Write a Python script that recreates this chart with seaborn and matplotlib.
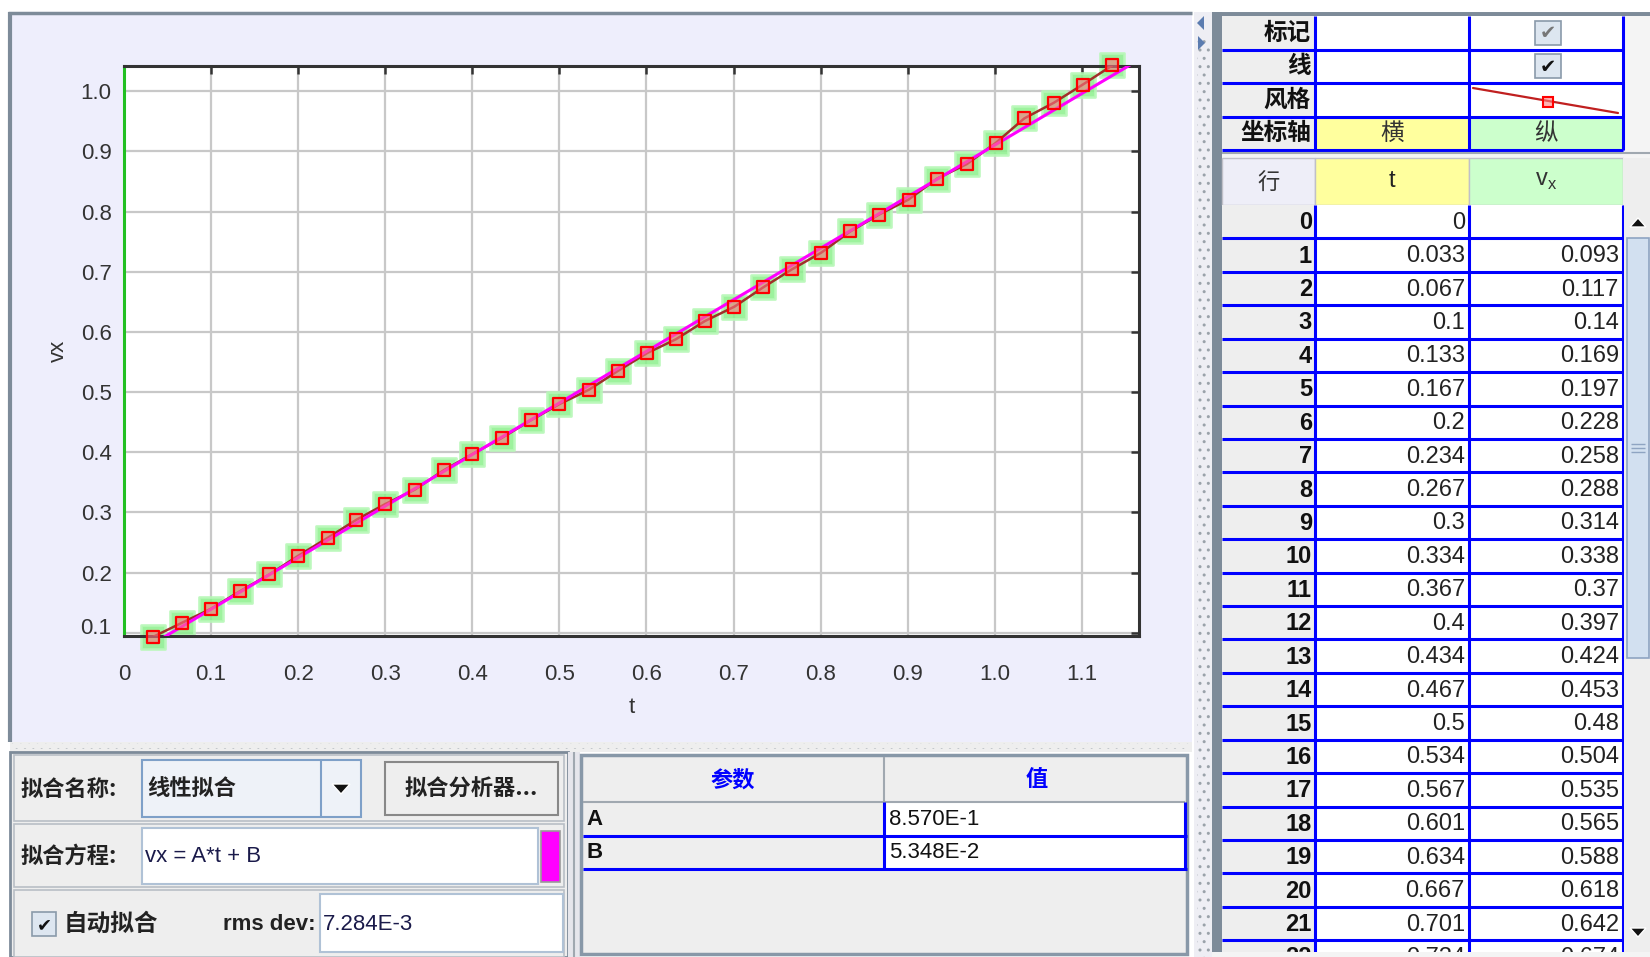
import numpy as np
import pandas as pd
import matplotlib
matplotlib.use("Agg")
import matplotlib.pyplot as plt
import matplotlib.transforms as mtransforms
import seaborn as sns
from matplotlib.patches import Rectangle, Polygon

# ---------------- data ----------------
row_index = list(range(35))
t_values = [0, 0.033, 0.067, 0.1, 0.133, 0.167, 0.2, 0.234, 0.267, 0.3, 0.334,
            0.367, 0.4, 0.434, 0.467, 0.5, 0.534, 0.567, 0.601, 0.634, 0.667,
            0.701, 0.734, 0.767, 0.801, 0.834, 0.867, 0.901, 0.934, 0.968,
            1.001, 1.034, 1.068, 1.101, 1.135]
vx_values = [np.nan, 0.093, 0.117, 0.14, 0.169, 0.197, 0.228, 0.258, 0.288,
             0.314, 0.338, 0.37, 0.397, 0.424, 0.453, 0.48, 0.504, 0.535,
             0.565, 0.588, 0.618, 0.642, 0.674, 0.704, 0.732, 0.767, 0.795,
             0.820, 0.855, 0.879, 0.914, 0.955, 0.981, 1.011, 1.043]
fit_A = 0.8570
fit_B = 0.05348
param_names = ["A", "B"]
param_texts = ["8.570E-1", "5.348E-2"]
rms_text = "7.284E-3"
fit_name = "线性拟合"
fit_equation = "vx = A*t + B"
x_ticks = [0, 0.1, 0.2, 0.3, 0.4, 0.5, 0.6, 0.7, 0.8, 0.9, 1.0, 1.1]
x_tick_labels = ["0", "0.1", "0.2", "0.3", "0.4", "0.5", "0.6", "0.7", "0.8", "0.9", "1.0", "1.1"]
y_ticks = [0.1, 0.2, 0.3, 0.4, 0.5, 0.6, 0.7, 0.8, 0.9, 1.0]
y_tick_labels = ["0.1", "0.2", "0.3", "0.4", "0.5", "0.6", "0.7", "0.8", "0.9", "1.0"]
top_rows = ["标记", "线", "风格", "坐标轴"]

df = pd.DataFrame({"row": row_index, "t": t_values, "vx": vx_values})
pts = df.dropna()

# ---------------- style ----------------
sns.set_theme(style="white")
CJK = ["Noto Sans CJK SC", "DejaVu Sans"]
LAT = ["Liberation Sans", "DejaVu Sans"]
plt.rcParams["font.family"] = LAT

W, H = 1650, 957
fig = plt.figure(figsize=(W / 100, H / 100), dpi=100)
fig.patch.set_facecolor("white")

ui = fig.add_axes([0, 0, 1, 1])
ui.set_xlim(0, W)
ui.set_ylim(H, 0)
ui.axis("off")

LAV = "#EEEEFC"
GREY = "#EEEEEE"
FRAME = "#7D8B99"
BLUE = "#0000FF"


def rect(x0, y0, x1, y1, fc="none", ec="none", lw=1.0, z=1, **kw):
    p = Rectangle((x0, y0), x1 - x0, y1 - y0, facecolor=fc,
                  edgecolor=ec, linewidth=lw, zorder=z, **kw)
    ui.add_patch(p)
    return p


def hline(x0, x1, y, c=BLUE, lw=2, z=3):
    ui.plot([x0, x1], [y, y], color=c, lw=lw, zorder=z, solid_capstyle="butt")


def vline(x, y0, y1, c=BLUE, lw=2, z=3):
    ui.plot([x, x], [y0, y1], color=c, lw=lw, zorder=z, solid_capstyle="butt")


def txt(x, y, s, size=16, ha="left", va="center", fam=LAT, bold=False, color="#111111", z=5, **kw):
    ui.text(x, y, s, fontsize=size, ha=ha, va=va, family=fam,
            fontweight="bold" if bold else "normal", color=color, zorder=z, **kw)


# ---------------- plot panel ----------------
rect(8, 12, 1192, 742, fc=LAV, z=0)
vline(9.5, 12, 742, c=FRAME, lw=3, z=1)
hline(8, 1192, 13, c=FRAME, lw=2.5, z=1)
# horizontal splitter
rect(10, 742, 1192, 752, fc=GREY, ec="none", z=1)
p = rect(10, 743, 1190, 749, fc="none", lw=0, hatch="..", z=1)
p.set_edgecolor("#9AA2AA")
# vertical splitter
rect(1194, 12, 1212, 957, fc="#EEEEF4", z=1)
p = rect(1197, 40, 1210, 957, fc="none", lw=0, hatch="..", z=1)
p.set_edgecolor("#9AA2AA")
ui.add_patch(Polygon([[1204, 16], [1204, 30], [1197, 23]], closed=True, fc="#5B7CB0", ec="none", zorder=2))
ui.add_patch(Polygon([[1198, 36], [1198, 50], [1205, 43]], closed=True, fc="#5B7CB0", ec="none", zorder=2))
# table pane frame
rect(1212, 12, 1222, 957, fc=FRAME, z=1)
hline(1212, 1650, 14.5, c=FRAME, lw=5, z=1)

# ---------------- main axes ----------------
ax = fig.add_axes([124 / W, 1 - 636 / H, (1139 - 124) / W, (636 - 66) / H])
ax.set_facecolor("white")

t_fit = np.linspace(0, 1.2, 2)
fit_df = pd.DataFrame({"t": t_fit, "vx": fit_A * t_fit + fit_B})

sns.scatterplot(data=pts, x="t", y="vx", ax=ax, marker="s", s=300,
                color="#8CF08C", edgecolor="#B8F8B8", linewidth=2, alpha=0.85,
                zorder=2, clip_on=False, legend=False)
sns.lineplot(data=pts, x="t", y="vx", ax=ax, sort=False, estimator=None,
             color="#A0302A", lw=1.8, zorder=3, legend=False)
sns.lineplot(data=fit_df, x="t", y="vx", ax=ax, color="#FF00FF", lw=2.2,
             zorder=4, legend=False)
sns.scatterplot(data=pts, x="t", y="vx", ax=ax, marker="s", s=70,
                facecolor=(1.0, 0.45, 0.5, 0.6), edgecolor="#FF0000",
                linewidth=1.6, zorder=5, clip_on=False, legend=False)

ax.set_xlim(0, 1.1657)
ax.set_ylim(0.0947, 1.042)
ax.set_xticks(x_ticks)
ax.set_xticklabels(x_tick_labels)
ax.set_yticks(y_ticks)
ax.set_yticklabels(y_tick_labels)
ax.grid(True, color="#C8C8C8", lw=1.6)
ax.set_axisbelow(True)
ax.tick_params(axis="both", direction="in", length=6, width=1.8, color="#333333",
               top=True, right=True, labelsize=16, labelcolor="#333333")
ax.tick_params(axis="x", pad=20)
ax.tick_params(axis="y", pad=9)
for side in ["top", "bottom", "right"]:
    ax.spines[side].set_color("#333333")
    ax.spines[side].set_linewidth(2.2)
ax.spines["left"].set_color("#22C022")
ax.spines["left"].set_linewidth(2.2)
ax.set_xlabel("t", fontsize=16, color="#333333", labelpad=9)
ax.set_ylabel("vx", fontsize=16, color="#333333", labelpad=8)
# lowest y label sits a bit above its tick, as in the source
lbl = ax.yaxis.get_major_ticks()[0].label1
lbl.set_transform(lbl.get_transform() + mtransforms.ScaledTranslation(0, 0.07, fig.dpi_scale_trans))

# ---------------- data table (right) ----------------
cx = [1222, 1315, 1469, 1623]
top_h = 33.5
for i, name in enumerate(top_rows):
    y0 = 16 + i * top_h
    rect(cx[0], y0, cx[1], y0 + top_h, fc=GREY, z=1)
    if name == "坐标轴":
        rect(cx[1], y0, cx[2], y0 + top_h, fc="#FFFF9E", z=1)
        rect(cx[2], y0, cx[3], y0 + top_h, fc="#CCFFCC", z=1)
    else:
        rect(cx[1], y0, cx[3], y0 + top_h, fc="white", z=1)
    txt(cx[1] - 4, y0 + top_h / 2, name, size=17, ha="right", fam=CJK, bold=True)
    hline(cx[0], cx[3], y0 + top_h, lw=2.2)
rect(cx[3], 16, 1650, 150, fc="#F4F4F4", z=1)
for x in cx[1:]:
    vline(x, 16, 150, lw=2.2)
txt((cx[1] + cx[2]) / 2, 16 + 3.5 * top_h, "横", size=17, ha="center", fam=CJK, color="#333333")
txt((cx[2] + cx[3]) / 2, 16 + 3.5 * top_h, "纵", size=17, ha="center", fam=CJK, color="#333333")
for i, col in enumerate(["#777777", "#111111"]):
    yc = 16 + (i + 0.5) * top_h
    rect(1535, yc - 12, 1561, yc + 12, fc="#DDE6F0", ec="#8A9AAA", lw=1.2, z=4)
    txt(1548, yc + 1, "✔", size=14, ha="center", fam=["DejaVu Sans"], color=col, z=6)
ui.plot([1473, 1618], [88, 113], color="#C02020", lw=1.6, zorder=4)
rect(1543, 97, 1553, 107, fc=(1, 0.5, 0.5, 0.6), ec="#FF0000", lw=1.5, z=5)

rect(1222, 150, 1650, 158, fc="#F4F4F4", z=1)
hline(1222, 1650, 152.5, c="#A0A8B0", lw=1.5)

rect(cx[0], 158, cx[1], 205, fc="#EEEEF8", ec="#C0C0C8", lw=1, z=1)
rect(cx[1], 158, cx[2], 205, fc="#FFFF9E", ec="#C0C0C8", lw=1, z=1)
rect(cx[2], 158, cx[3], 205, fc="#CCFFCC", ec="#C0C0C8", lw=1, z=1)
rect(cx[3], 158, 1650, 205, fc=GREY, z=1)
txt((cx[0] + cx[1]) / 2, 183, "行", size=16, ha="center", fam=CJK, color="#333333", style="italic")
txt((cx[1] + cx[2]) / 2, 181, "t", size=17, ha="center", color="#222222")
txt((cx[2] + cx[3]) / 2, 181, r"v$_\mathregular{x}$", size=17, ha="center", color="#333333")

row_h = 33.42
row_top0 = 205
for i in row_index:
    y0 = row_top0 + i * row_h
    if y0 > 952:
        break
    rect(cx[0], y0, cx[1], y0 + row_h, fc=GREY, z=1)
    rect(cx[1], y0, cx[3], y0 + row_h, fc="white", z=1)
    yc = y0 + row_h / 2 + 1
    txt(cx[1] - 3, yc, str(row_index[i]), size=17, ha="right", bold=True)
    txt(cx[2] - 4, yc, f"{t_values[i]:g}", size=17, ha="right", color="#222222")
    if not np.isnan(vx_values[i]):
        txt(cx[3] - 4, yc, f"{vx_values[i]:g}", size=17, ha="right", color="#222222")
    if i > 0:
        hline(cx[0], cx[3], y0, lw=2.2)
for x in cx[1:]:
    vline(x, 205, 952, lw=2.2)
rect(1624, 205, 1650, 952, fc=GREY, z=6)
ui.add_patch(Polygon([[1630, 227], [1646, 227], [1638, 218]], closed=True, fc="#111111", zorder=7))
rect(1627, 238, 1649, 658, fc="#D2E0F0", ec="#8EA4C2", lw=1.2, z=7)
for yy in [444, 448, 452]:
    hline(1631, 1645, yy, c="#8EA4C2", lw=1, z=8)
ui.add_patch(Polygon([[1630, 928], [1646, 928], [1638, 937]], closed=True, fc="#111111", zorder=7))
rect(1212, 952, 1650, 957, fc="#F4F4F4", z=10)

# ---------------- fit controls (bottom-left) ----------------
rect(10, 752, 568, 957, fc=GREY, ec=FRAME, lw=2, z=1)
rect(14, 755, 564, 821, fc=GREY, ec="#B8BEC6", lw=1.2, z=1)
rect(14, 824, 564, 887, fc=GREY, ec="#B8BEC6", lw=1.2, z=1)
rect(14, 890, 564, 957, fc=GREY, ec="#B8BEC6", lw=1.2, z=1)
txt(21, 789, "拟合名称:", size=16, fam=CJK, bold=True, color="#222222")
rect(142, 760, 361, 817, fc="#EEF2F8", ec="#7EA0C8", lw=1.5, z=2)
vline(321, 760, 817, c="#7EA0C8", lw=1.5)
ui.add_patch(Polygon([[332, 784], [350, 784], [341, 794]], closed=True, fc="#111111", zorder=4))
txt(147, 788, fit_name, size=16, fam=CJK, bold=True, color="#222222")
rect(385, 762, 558, 815, fc=GREY, ec="#888888", lw=1.5, z=2)
txt(471, 789, "拟合分析器...", size=16, ha="center", fam=CJK, bold=True, color="#222222")

txt(21, 856, "拟合方程:", size=16, fam=CJK, bold=True, color="#222222")
rect(142, 828, 538, 884, fc="white", ec="#B0C2D6", lw=1.5, z=2)
txt(145, 856, fit_equation, size=16, color="#1A1A4A")
rect(541, 831, 560, 882, fc="#FF00FF", ec="#999999", lw=1.2, z=2)

rect(32, 912, 56, 936, fc="#DDE6F0", ec="#8A9AAA", lw=1.2, z=2)
txt(44, 925, "✔", size=13, ha="center", fam=["DejaVu Sans"], color="#111111")
txt(64, 924, "自动拟合", size=17, fam=CJK, bold=True, color="#222222")
txt(316, 924, "rms dev:", size=16, ha="right", bold=True, color="#222222")
rect(320, 894, 563, 952, fc="white", ec="#B0C2D6", lw=1.5, z=2)
txt(323, 924, rms_text, size=16, color="#1A1A4A")

rect(568, 752, 580, 957, fc="#E6E6EC", z=1)
vline(574, 752, 957, c="#A0A8B0", lw=1.5)

# ---------------- parameter table ----------------
rect(581, 755, 1187, 954, fc=GREY, ec="#8898A8", lw=2.5, z=1)
vline(884, 757, 802, c="#A0A8B0", lw=1.5)
hline(583, 1185, 802, c="#A0A8B0", lw=1.5)
txt(733, 780, "参数", size=16, ha="center", fam=CJK, bold=True, color=BLUE)
txt(1037, 780, "值", size=16, ha="center", fam=CJK, bold=True, color=BLUE)
for i, (pn, pv) in enumerate(zip(param_names, param_texts)):
    y0 = 802 + i * 33.5
    rect(884, y0, 1185, y0 + 33.5, fc="white", z=1)
    txt(586, y0 + 17.5, pn, size=16, bold=True, color="#111111")
    txt(889, y0 + 17.5, pv, size=16, color="#111111")
    hline(583, 1187, y0 + 33.5, lw=2.2)
vline(884, 802, 869, lw=2.2)
vline(1185, 802, 869, lw=2.2)

fig.savefig("out.png", dpi=100)
